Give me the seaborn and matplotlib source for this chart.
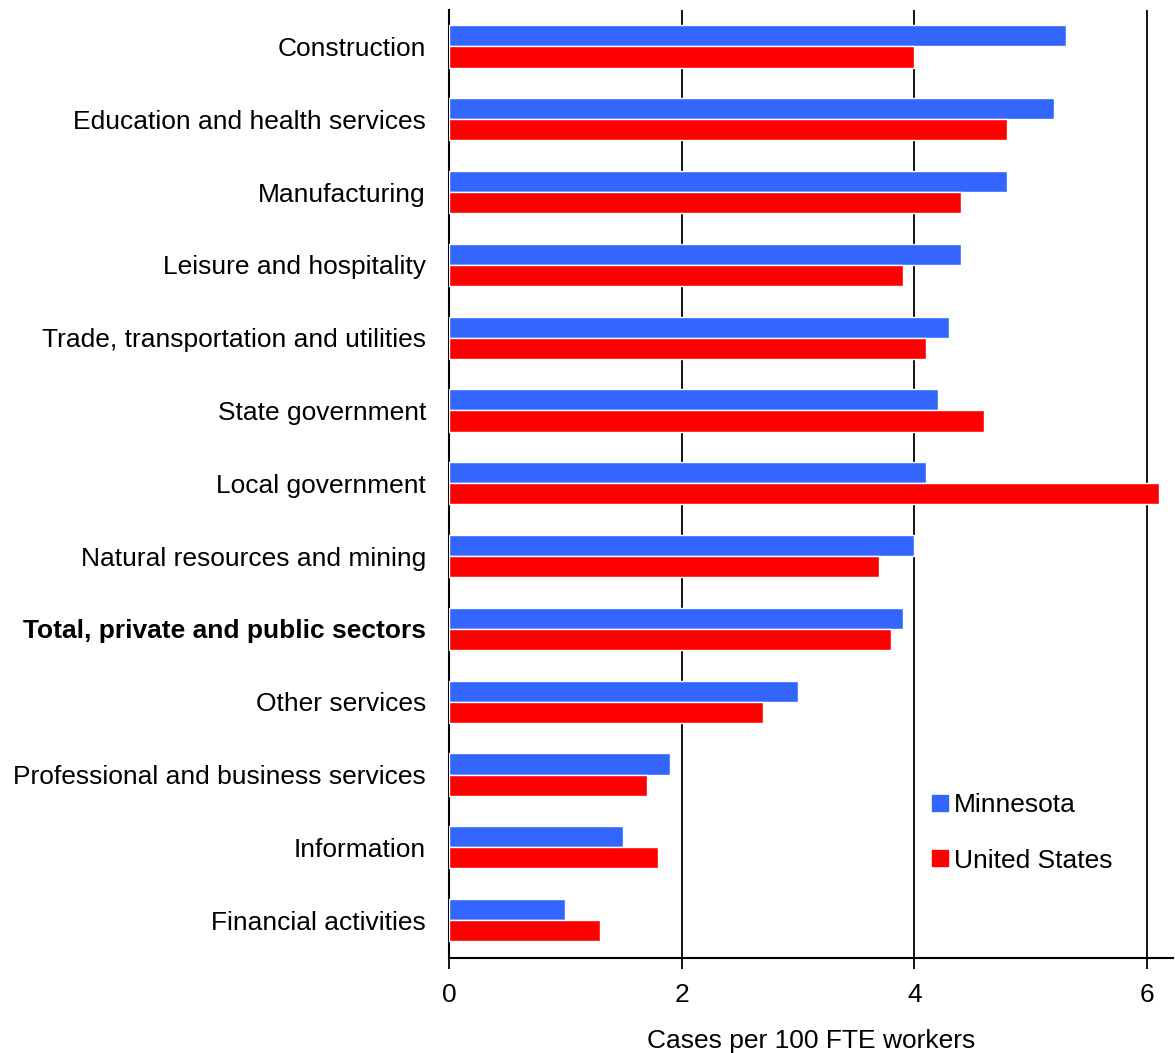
import matplotlib
matplotlib.use("Agg")
import matplotlib.pyplot as plt
from matplotlib.lines import Line2D
import seaborn as sns
import pandas as pd

industries = [
    "Construction",
    "Education and health services",
    "Manufacturing",
    "Leisure and hospitality",
    "Trade, transportation and utilities",
    "State government",
    "Local government",
    "Natural resources and mining",
    "Total, private and public sectors",
    "Other services",
    "Professional and business services",
    "Information",
    "Financial activities",
]
minnesota = [5.3, 5.2, 4.8, 4.4, 4.3, 4.2, 4.1, 4.0, 3.9, 3.0, 1.9, 1.5, 1.0]
united_states = [4.0, 4.8, 4.4, 3.9, 4.1, 4.6, 6.1, 3.7, 3.8, 2.7, 1.7, 1.8, 1.3]
regions = ["Minnesota", "United States"]
colors = ["#3366FF", "#FF0000"]
x_ticks = [0, 2, 4, 6]
x_label = "Cases per 100 FTE workers"

df = pd.DataFrame({
    "Industry": industries * 2,
    "Rate": minnesota + united_states,
    "Region": [regions[0]] * len(industries) + [regions[1]] * len(industries),
})

sns.set_theme(style="white")
plt.rcParams["font.family"] = ["Liberation Sans", "DejaVu Sans"]
plt.rcParams["text.color"] = "black"
plt.rcParams["xtick.color"] = "black"
plt.rcParams["ytick.color"] = "black"
plt.rcParams["axes.labelcolor"] = "black"

fig = plt.figure(figsize=(11.75, 10.53), dpi=100)
ax = fig.add_axes([0.382, 0.0902, 0.616, 0.9003])

sns.barplot(data=df, y="Industry", x="Rate", hue="Region", order=industries,
            hue_order=regions, palette=colors, orient="h", width=0.58,
            saturation=1, legend=False, ax=ax, zorder=3)

ax.set_xlim(0, 6.22)
ax.set_ylim(len(industries) - 0.48, -0.5)
ax.set_xticks(x_ticks)
ax.set_xticklabels([str(t) for t in x_ticks], fontsize=19)
for v in x_ticks[1:]:
    ax.axvline(v, color="black", lw=1.3, zorder=1)

ax.set_xlabel(x_label, fontsize=19, labelpad=16)
ax.set_ylabel("")
ax.tick_params(axis="y", length=0, pad=16.5, labelsize=19)
ax.tick_params(axis="x", length=8, width=1.3, color="black", direction="out",
               bottom=True, pad=10)
for lab in ax.get_yticklabels():
    if lab.get_text().startswith("Total"):
        lab.set_fontweight("bold")

for side in ["top", "right"]:
    ax.spines[side].set_visible(False)
for side in ["left", "bottom"]:
    ax.spines[side].set_color("black")
    ax.spines[side].set_linewidth(1.5)

handles = [Line2D([], [], marker="s", linestyle="none", markersize=11,
                  markerfacecolor=c, markeredgecolor=c) for c in colors]
ax.legend(handles, regions, loc="center left", bbox_to_anchor=(0.66, 0.132),
          frameon=False, fontsize=19, handletextpad=0.05, handlelength=1.0,
          labelspacing=1.2, borderaxespad=0, borderpad=0)

fig.savefig("out.png", dpi=100)
